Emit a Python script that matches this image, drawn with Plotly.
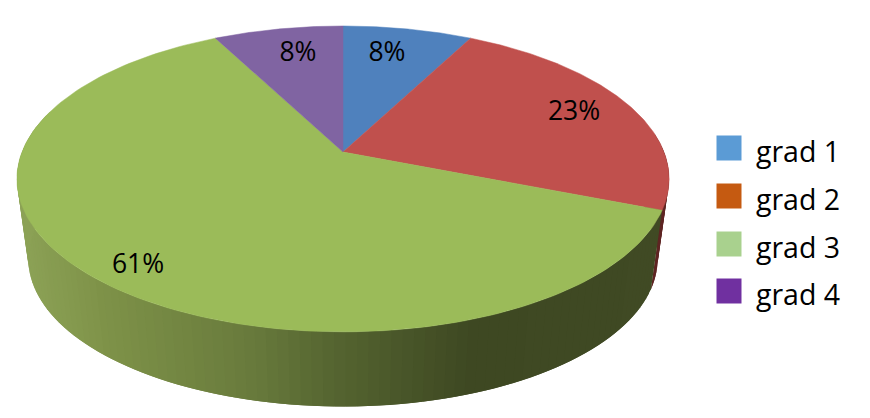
import numpy as np
import plotly.graph_objects as go

categories = ["grad 1", "grad 2", "grad 3", "grad 4"]
values = [7.6, 23.4, 61.4, 7.6]
percent_labels = ["8%", "23%", "61%", "8%"]
slice_colors = ["#4f81bd", "#c0504d", "#9bbb59", "#8064a2"]
legend_colors = ["#5b9bd5", "#c55a11", "#a9d18e", "#7030a0"]

# label and legend placement (pixels on the page)
label_x = [387, 574, 138, 298]
label_y = [54.5, 113.5, 266.5, 54.5]
swatch_x, legend_text_x = 729, 756
legend_y = [148, 196, 244, 291]

# perspective model of the disc
CX, TOP_Y, BOT_Y, A, B, K, BOT_SCALE = 343, 152, 233, 321, 148.2, 0.176, 0.965
PAGE_MARGIN = 8  # the browser's default body margin


def project(theta, scale=1.0, y0=TOP_Y):
    u, v = np.sin(theta), np.cos(theta)
    d = 1 + K * v
    return CX + scale * A * u / d, y0 - scale * B * v / d


def side_color(x, base):
    xs = [17, 100, 250, 335, 470, 680]
    if base == "green":
        r = np.interp(x, xs, [140, 126, 104, 84, 62, 64])
        g = np.interp(x, xs, [162, 146, 122, 100, 72, 74])
        b = np.interp(x, xs, [86, 72, 60, 48, 34, 36])
        return f"rgb({r:.0f},{g:.0f},{b:.0f})"
    return "#5e2422"


fig = go.Figure()
total = sum(values)
edges = np.cumsum([0] + values) / total * 2 * np.pi


def poly(xs, ys, color, lw=0.0):
    fig.add_trace(go.Scatter(
        x=xs, y=ys, mode="lines", fill="toself", fillcolor=color,
        line=dict(color=color, width=lw), hoverinfo="skip", showlegend=False,
    ))


# side wall: red sliver and green wall, drawn as overlapping shaded strips
for start, end, base in [(np.pi / 2 * 0.92, edges[2], "red"), (edges[2], edges[3], "green")]:
    n = 6 if base == "red" else 130
    t = np.linspace(start, end, n + 1)
    for j in range(n):
        a = t[j]
        b = t[min(j + 2, n)]
        if base == "green" and np.cos(a) > 0.25:
            continue
        tt = np.linspace(a, b, 4)
        xt, yt = project(tt)
        xb, yb = project(tt, BOT_SCALE, BOT_Y)
        poly(list(xt) + list(xb[::-1]) + [xt[0]],
             list(yt) + list(yb[::-1]) + [yt[0]],
             side_color(float(xt[1]), base))

# top face
for i, color in enumerate(slice_colors):
    t = np.linspace(edges[i], edges[i + 1], 160)
    x, y = project(t)
    poly([CX] + list(x) + [CX], [TOP_Y] + list(y) + [TOP_Y], color, 0.5)

# percent labels
fig.add_trace(go.Scatter(
    x=label_x, y=label_y, mode="text", text=percent_labels,
    textfont=dict(family="Open Sans", size=26.5, color="#000000"),
    hoverinfo="skip", showlegend=False,
))

# legend
fig.add_trace(go.Scatter(
    x=[swatch_x] * 4, y=legend_y, mode="markers",
    marker=dict(symbol="square", size=25, color=legend_colors),
    hoverinfo="skip", showlegend=False,
))
fig.add_trace(go.Scatter(
    x=[legend_text_x] * 4, y=[v + 7 for v in legend_y], mode="text", text=categories,
    textposition="middle right",
    textfont=dict(family="Open Sans", size=28.5, color="#000000"),
    hoverinfo="skip", showlegend=False,
))

fig.update_layout(
    width=870 - PAGE_MARGIN, height=418 - PAGE_MARGIN, margin=dict(l=0, r=0, t=0, b=0),
    paper_bgcolor="white", plot_bgcolor="white",
    xaxis=dict(range=[PAGE_MARGIN, 870], visible=False, fixedrange=True),
    yaxis=dict(range=[418, PAGE_MARGIN], visible=False, fixedrange=True),
)
fig.write_html("out.html", config={"displayModeBar": False})
